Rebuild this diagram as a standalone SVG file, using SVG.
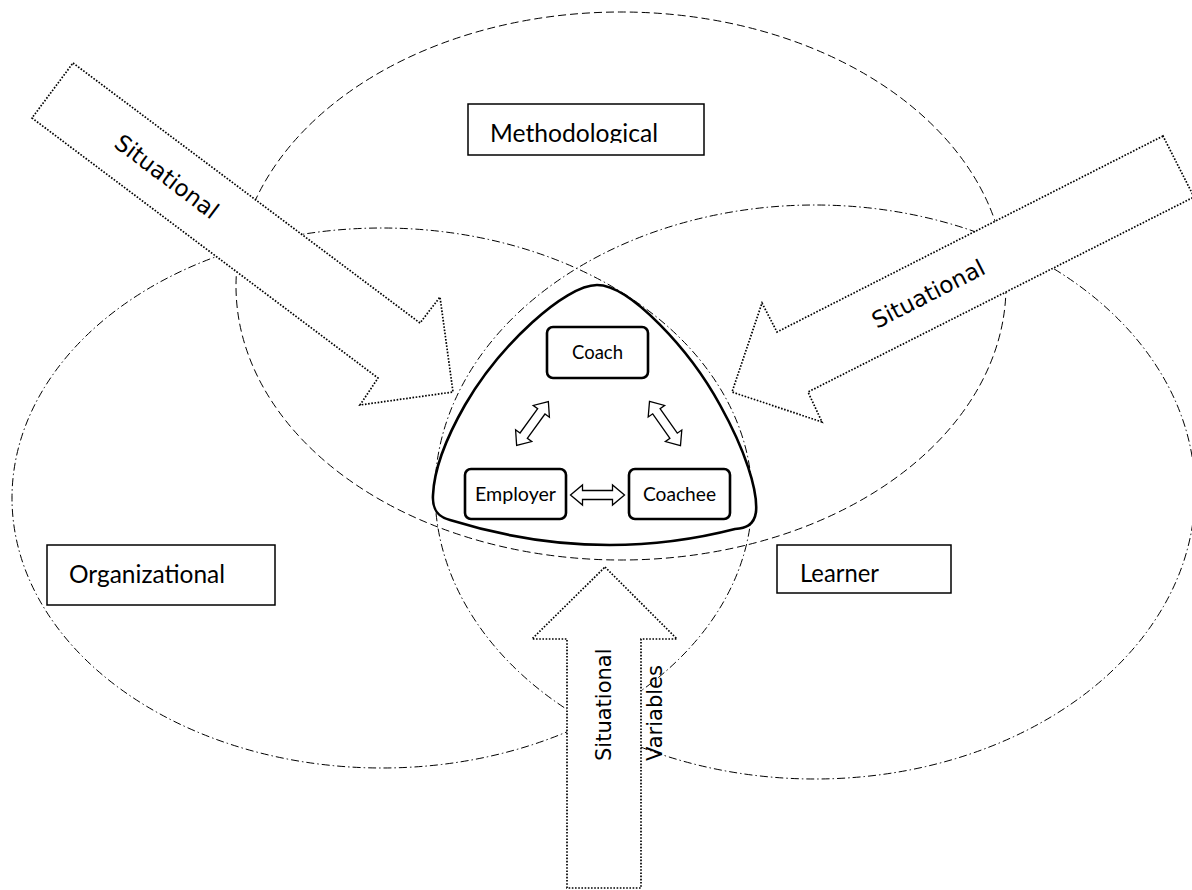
<svg xmlns="http://www.w3.org/2000/svg" width="1192" height="890" viewBox="0 0 1192 890">
  <style>
    .dash { fill: none; stroke: #000; stroke-width: 1; stroke-dasharray: 8 4; }
    .dashdot { fill: none; stroke: #000; stroke-width: 1; stroke-dasharray: 8 3 1.5 3; }
    .blk { fill: #fff; stroke: #000; stroke-width: 1.7; stroke-dasharray: 1.6 1.6; stroke-linejoin: miter; }
    .lab { fill: #fff; stroke: #000; stroke-width: 1.5; }
    .nd { fill: #fff; stroke: #000; stroke-width: 2.6; }
    .big { font-family: Lato, "Liberation Sans", sans-serif; font-size: 25px; fill: #000; }
    .sm { font-family: Lato, "Liberation Sans", sans-serif; font-size: 20px; fill: #000; }
    .sit { font-family: "DejaVu Sans", sans-serif; fill: #000; }
    .dbl { fill: #fff; stroke: #000; stroke-width: 1.3; stroke-linejoin: miter; }
  </style>
  <defs>
    <path id="dblArrow" d="M -27,0 L -15,-10 L -15,-4.5 L 15,-4.5 L 15,-10 L 27,0 L 15,10 L 15,4.5 L -15,4.5 L -15,10 Z"/>
    <clipPath id="clipMeth"><rect x="468" y="104" width="236" height="39"/></clipPath>
    <clipPath id="clipVar"><rect x="643" y="600" width="60" height="200"/></clipPath>
  </defs>
  <rect width="1192" height="890" fill="#fff"/>

  <g id="ellipses">
    <ellipse id="methodological-ellipse" class="dash" cx="621" cy="286" rx="385" ry="274"/>
    <ellipse id="organizational-ellipse" class="dashdot" cx="382" cy="498" rx="370" ry="270"/>
    <ellipse id="learner-ellipse" class="dashdot" cx="815" cy="492" rx="380" ry="287"/>
  </g>

  <g id="label-methodological">
    <rect class="lab" x="468" y="104" width="236" height="51"/>
    <text class="big" x="490" y="142" textLength="168" lengthAdjust="spacingAndGlyphs" clip-path="url(#clipMeth)">Methodological</text>
  </g>
  <g id="label-organizational">
    <rect class="lab" x="47" y="545" width="228" height="60"/>
    <text class="big" x="69" y="583" textLength="156" lengthAdjust="spacingAndGlyphs">Organizational</text>
  </g>
  <g id="label-learner">
    <rect class="lab" x="777" y="545" width="174" height="48"/>
    <text class="big" x="800" y="582" textLength="79" lengthAdjust="spacingAndGlyphs">Learner</text>
  </g>

  <g id="arrow-top-left">
    <polygon class="blk" points="73,63 420,323 440,297 453,392 360,405 378,378 32,118"/>
    <text class="sit" font-size="23" x="162" y="183" text-anchor="middle" transform="rotate(37 162 183)">Situational</text>
  </g>
  <g id="arrow-top-right">
    <polygon class="blk" points="1163,136 777,332 762,303 732,392 822,422 808,392 1194,197"/>
    <text class="sit" font-size="23" x="932" y="301" text-anchor="middle" transform="rotate(-27 932 301)">Situational</text>
  </g>
  <g id="arrow-bottom">
    <polygon class="blk" points="605,567 677,639 641,639 641,888 567,888 567,639 532,639"/>
    <text class="sit" font-size="21" x="611" y="761" transform="rotate(-90 611 761)">Situational</text>
    <g clip-path="url(#clipVar)">
      <text class="sit" font-size="21" x="662" y="761" transform="rotate(-90 662 761)">Variables</text>
    </g>
  </g>

  <g id="core">
    <path class="nd" stroke-width="4" d="M 597,285 C 630,285 690,350 720,405 C 745,450 758,490 756,512 C 754,526 745,528 735,529 Q 595,565 450,520 C 438,517 432,510 433,495 C 434,470 445,440 465,405 C 500,345 565,285 597,285 Z"/>
  </g>

  <g id="node-coach">
    <rect class="nd" x="547" y="327" width="101" height="51" rx="6"/>
    <text class="sm" x="597.5" y="359" text-anchor="middle" textLength="51" lengthAdjust="spacingAndGlyphs">Coach</text>
  </g>
  <g id="node-employer">
    <rect class="nd" x="465" y="469" width="101" height="50" rx="6"/>
    <text class="sm" x="515.5" y="501" text-anchor="middle" textLength="81" lengthAdjust="spacingAndGlyphs">Employer</text>
  </g>
  <g id="node-coachee">
    <rect class="nd" x="629" y="469" width="101" height="50" rx="6"/>
    <text class="sm" x="679.5" y="501" text-anchor="middle" textLength="73" lengthAdjust="spacingAndGlyphs">Coachee</text>
  </g>

  <g id="connectors">
    <use href="#dblArrow" class="dbl" transform="translate(532.5 423.5) rotate(-54)"/>
    <use href="#dblArrow" class="dbl" transform="translate(665 423.5) rotate(55)"/>
    <use href="#dblArrow" class="dbl" transform="translate(597.5 495)"/>
  </g>
</svg>
